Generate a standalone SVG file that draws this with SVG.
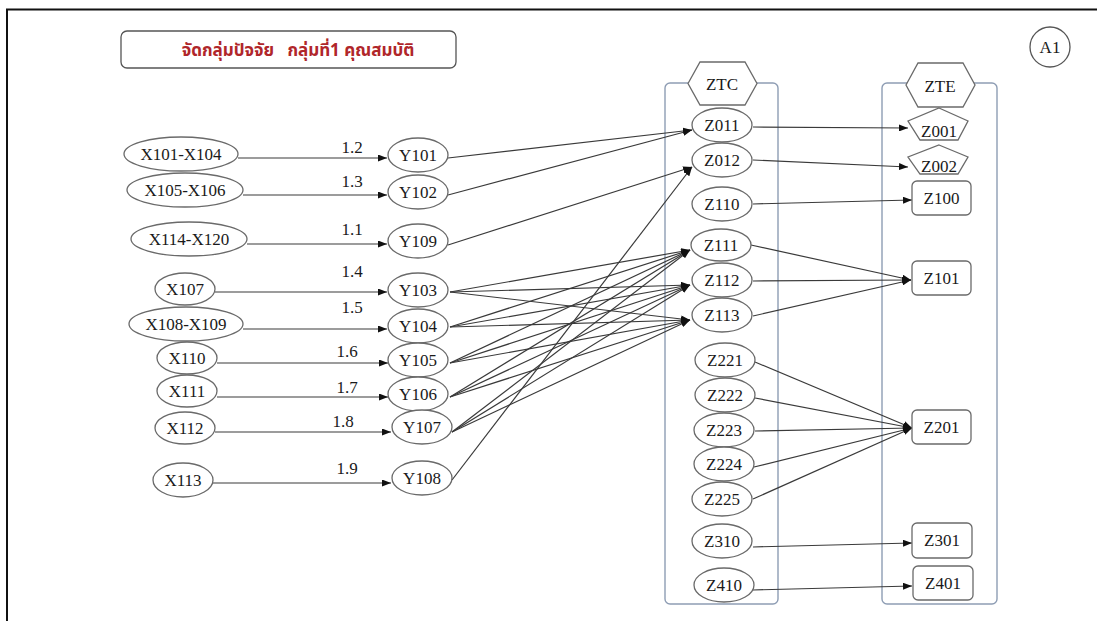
<svg xmlns="http://www.w3.org/2000/svg" width="1097" height="621" viewBox="0 0 1097 621">
<defs>
<marker id="ah" markerWidth="9" markerHeight="7" refX="9" refY="3.5" orient="auto" markerUnits="userSpaceOnUse"><path d="M0,0 L9,3.5 L0,7 z" fill="#111"/></marker>
<style>
.n ellipse,.n rect,.n polygon{fill:#fff;stroke:#6a6a6a;stroke-width:1.3}
.t{font-family:"Liberation Serif","Times New Roman",serif;font-size:17px;fill:#1a1a1a;text-anchor:middle}
.lbl{font-family:"Liberation Serif","Times New Roman",serif;font-size:17px;fill:#1a1a1a;text-anchor:middle}
.c line{stroke:#3a3a3a;stroke-width:1.2;marker-end:url(#ah)}
.box{fill:#fff;stroke:#8e9db4;stroke-width:1.4}
</style>
</defs>
<rect width="1097" height="621" fill="#fff"/>
<rect x="7" y="9.5" width="1100" height="700" fill="none" stroke="#111" stroke-width="2"/>

<g id="title">
<rect x="121" y="31" width="335" height="37" rx="6" fill="#fff" stroke="#555" stroke-width="1.3"/>
<text x="298" y="56" style="font-family:'Noto Sans Thai','Noto Sans','DejaVu Sans',sans-serif;font-size:17px;font-weight:bold;fill:#b0262a;text-anchor:middle" xml:space="preserve">จัดกลุ่มปัจจัย   กลุ่มที่1 คุณสมบัติ</text>
</g>

<g id="A1" class="n"><circle cx="1050" cy="47" r="20" fill="#fff" stroke="#555" stroke-width="1.3"/><text class="t" x="1050" y="53">A1</text></g>

<g id="ZTC-group"><rect class="box" x="665" y="83" width="113" height="521" rx="5"/>
<polygon points="688,83.5 700,62 745,62 757,83.5 745,105 700,105" fill="#fff" stroke="#6a6a6a" stroke-width="1.3"/><text class="t" x="722" y="90">ZTC</text></g>
<g id="ZTE-group"><rect class="box" x="882" y="83" width="115" height="521" rx="5"/>
<polygon points="906,85 918,63 963,63 975,85 963,107 918,107" fill="#fff" stroke="#6a6a6a" stroke-width="1.3"/><text class="t" x="940" y="92">ZTE</text></g>

<g id="connectors" class="c">
<line x1="238" y1="158" x2="387" y2="158"/>
<line x1="243" y1="195" x2="387" y2="195"/>
<line x1="247" y1="244" x2="387" y2="244"/>
<line x1="215" y1="292" x2="387" y2="292"/>
<line x1="243" y1="329" x2="387" y2="329"/>
<line x1="217" y1="363" x2="388" y2="363"/>
<line x1="217" y1="397" x2="388" y2="397"/>
<line x1="215" y1="432" x2="391" y2="432"/>
<line x1="213" y1="483" x2="391" y2="483"/>

<line x1="448" y1="158" x2="692" y2="130"/>
<line x1="448" y1="195" x2="692" y2="130"/>
<line x1="448" y1="245" x2="692" y2="167"/>
<line x1="452" y1="480" x2="692" y2="167"/>

<line x1="450" y1="292" x2="690" y2="250"/>
<line x1="450" y1="292" x2="690" y2="285"/>
<line x1="450" y1="292" x2="690" y2="320"/>
<line x1="450" y1="327" x2="690" y2="250"/>
<line x1="450" y1="327" x2="690" y2="285"/>
<line x1="450" y1="327" x2="690" y2="320"/>
<line x1="450" y1="363" x2="690" y2="250"/>
<line x1="450" y1="363" x2="690" y2="285"/>
<line x1="450" y1="363" x2="690" y2="320"/>
<line x1="450" y1="397" x2="690" y2="250"/>
<line x1="450" y1="397" x2="690" y2="285"/>
<line x1="450" y1="397" x2="690" y2="320"/>
<line x1="452" y1="432" x2="690" y2="250"/>
<line x1="452" y1="432" x2="690" y2="285"/>
<line x1="452" y1="432" x2="690" y2="320"/>

<line x1="753" y1="127" x2="908" y2="128"/>
<line x1="753" y1="160" x2="908" y2="167"/>
<line x1="753" y1="204" x2="912" y2="200"/>
<line x1="751" y1="245" x2="911" y2="280"/>
<line x1="753" y1="281" x2="911" y2="280"/>
<line x1="753" y1="316" x2="911" y2="280"/>
<line x1="755" y1="362" x2="912" y2="428"/>
<line x1="755" y1="398" x2="912" y2="428"/>
<line x1="755" y1="431" x2="912" y2="428"/>
<line x1="754" y1="467" x2="912" y2="428"/>
<line x1="753" y1="499" x2="912" y2="428"/>
<line x1="753" y1="547" x2="912" y2="543"/>
<line x1="753" y1="590" x2="912" y2="586"/>
</g>

<g id="labels">
<text class="lbl" x="352" y="153">1.2</text>
<text class="lbl" x="352" y="187">1.3</text>
<text class="lbl" x="352" y="235">1.1</text>
<text class="lbl" x="352" y="277">1.4</text>
<text class="lbl" x="352" y="313">1.5</text>
<text class="lbl" x="347" y="357">1.6</text>
<text class="lbl" x="347" y="393">1.7</text>
<text class="lbl" x="343" y="427">1.8</text>
<text class="lbl" x="347" y="474">1.9</text>
</g>

<g id="X101-X104" class="n"><ellipse cx="181" cy="154" rx="57" ry="17"/><text class="t" x="181" y="160">X101-X104</text></g>
<g id="X105-X106" class="n"><ellipse cx="185" cy="190" rx="58" ry="17"/><text class="t" x="185" y="196">X105-X106</text></g>
<g id="X114-X120" class="n"><ellipse cx="189" cy="239" rx="58" ry="17"/><text class="t" x="189" y="245">X114-X120</text></g>
<g id="X107" class="n"><ellipse cx="185" cy="289" rx="30" ry="16"/><text class="t" x="185" y="295">X107</text></g>
<g id="X108-X109" class="n"><ellipse cx="186" cy="324" rx="57" ry="17"/><text class="t" x="186" y="330">X108-X109</text></g>
<g id="X110" class="n"><ellipse cx="187" cy="358" rx="30" ry="16"/><text class="t" x="187" y="364">X110</text></g>
<g id="X111" class="n"><ellipse cx="187" cy="391" rx="30" ry="16"/><text class="t" x="187" y="397">X111</text></g>
<g id="X112" class="n"><ellipse cx="185" cy="428" rx="30" ry="16"/><text class="t" x="185" y="434">X112</text></g>
<g id="X113" class="n"><ellipse cx="183" cy="480" rx="30" ry="17"/><text class="t" x="183" y="486">X113</text></g>

<g id="Y101" class="n"><ellipse cx="418" cy="155" rx="30" ry="17"/><text class="t" x="418" y="161">Y101</text></g>
<g id="Y102" class="n"><ellipse cx="418" cy="192" rx="30" ry="17"/><text class="t" x="418" y="198">Y102</text></g>
<g id="Y109" class="n"><ellipse cx="418" cy="241" rx="30" ry="17"/><text class="t" x="418" y="247">Y109</text></g>
<g id="Y103" class="n"><ellipse cx="418" cy="290" rx="30" ry="17"/><text class="t" x="418" y="296">Y103</text></g>
<g id="Y104" class="n"><ellipse cx="418" cy="326" rx="30" ry="17"/><text class="t" x="418" y="332">Y104</text></g>
<g id="Y105" class="n"><ellipse cx="418" cy="360" rx="30" ry="17"/><text class="t" x="418" y="366">Y105</text></g>
<g id="Y106" class="n"><ellipse cx="418" cy="394" rx="30" ry="17"/><text class="t" x="418" y="400">Y106</text></g>
<g id="Y107" class="n"><ellipse cx="422" cy="427" rx="30" ry="17"/><text class="t" x="422" y="433">Y107</text></g>
<g id="Y108" class="n"><ellipse cx="422" cy="478" rx="30" ry="17"/><text class="t" x="422" y="484">Y108</text></g>

<g id="Z011" class="n"><ellipse cx="722" cy="125" rx="30" ry="17"/><text class="t" x="722" y="131">Z011</text></g>
<g id="Z012" class="n"><ellipse cx="722" cy="160" rx="30" ry="17"/><text class="t" x="722" y="166">Z012</text></g>
<g id="Z110" class="n"><ellipse cx="722" cy="204" rx="30" ry="17"/><text class="t" x="722" y="210">Z110</text></g>
<g id="Z111" class="n"><ellipse cx="721" cy="245" rx="30" ry="16"/><text class="t" x="721" y="251">Z111</text></g>
<g id="Z112" class="n"><ellipse cx="722" cy="280" rx="30" ry="17"/><text class="t" x="722" y="286">Z112</text></g>
<g id="Z113" class="n"><ellipse cx="722" cy="315" rx="30" ry="17"/><text class="t" x="722" y="321">Z113</text></g>
<g id="Z221" class="n"><ellipse cx="725" cy="360" rx="30" ry="17"/><text class="t" x="725" y="366">Z221</text></g>
<g id="Z222" class="n"><ellipse cx="725" cy="395" rx="30" ry="17"/><text class="t" x="725" y="401">Z222</text></g>
<g id="Z223" class="n"><ellipse cx="724" cy="430" rx="30" ry="17"/><text class="t" x="724" y="436">Z223</text></g>
<g id="Z224" class="n"><ellipse cx="724" cy="464" rx="30" ry="17"/><text class="t" x="724" y="470">Z224</text></g>
<g id="Z225" class="n"><ellipse cx="722" cy="499" rx="30" ry="17"/><text class="t" x="722" y="505">Z225</text></g>
<g id="Z310" class="n"><ellipse cx="722" cy="541" rx="30" ry="17"/><text class="t" x="722" y="547">Z310</text></g>
<g id="Z410" class="n"><ellipse cx="724" cy="585" rx="30" ry="17"/><text class="t" x="724" y="591">Z410</text></g>

<g id="Z001" class="n"><polygon points="939,108 968,121 958,140 920,140 908,121"/><text class="t" x="939" y="137">Z001</text></g>
<g id="Z002" class="n"><polygon points="939,145 968,157 958,174 920,174 908,157"/><text class="t" x="939" y="172">Z002</text></g>
<g id="Z100" class="n"><rect x="912" y="181" width="59" height="34" rx="5"/><text class="t" x="941.5" y="204">Z100</text></g>
<g id="Z101" class="n"><rect x="912" y="261" width="59" height="34" rx="5"/><text class="t" x="941.5" y="284">Z101</text></g>
<g id="Z201" class="n"><rect x="912" y="410" width="59" height="34" rx="5"/><text class="t" x="941.5" y="433">Z201</text></g>
<g id="Z301" class="n"><rect x="912" y="523" width="60" height="35" rx="5"/><text class="t" x="942" y="546">Z301</text></g>
<g id="Z401" class="n"><rect x="913" y="566" width="60" height="34" rx="5"/><text class="t" x="943" y="589">Z401</text></g>
</svg>
